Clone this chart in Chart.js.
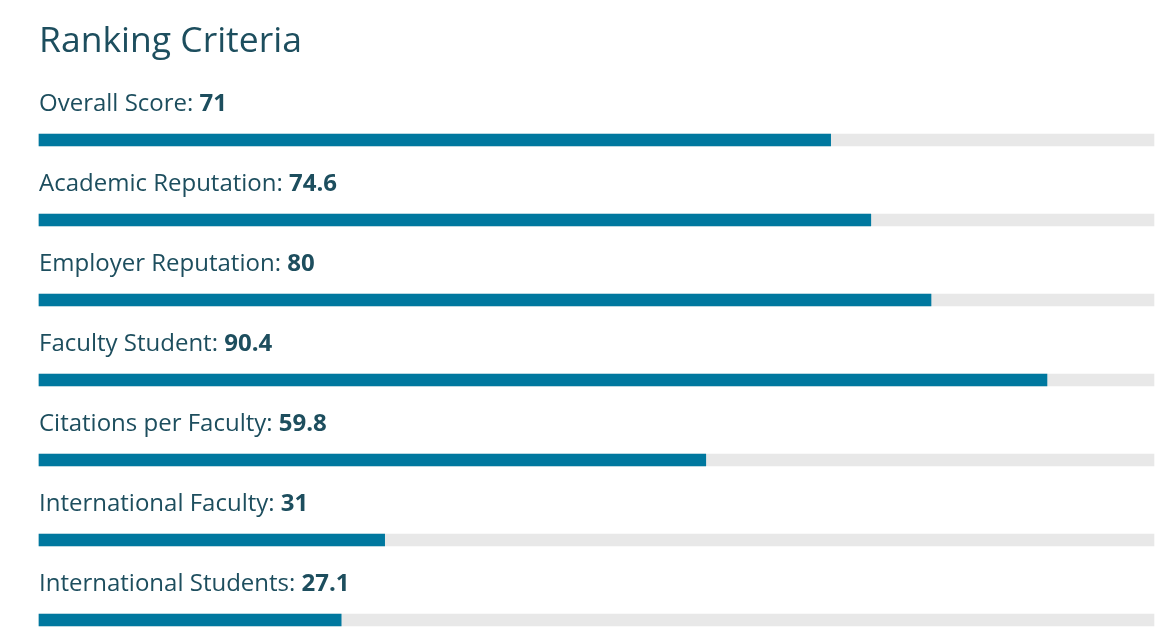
<!DOCTYPE html>
<html><head><meta charset="utf-8">
<script src="https://cdn.jsdelivr.net/npm/chart.js@4/dist/chart.umd.min.js"></script>
<style>html,body{margin:0;padding:0;background:#fff}#w{width:1170px;height:632px}</style>
</head><body><div id="w"><canvas id="c"></canvas></div>
<script>
const categories=["Overall Score","Academic Reputation","Employer Reputation","Faculty Student","Citations per Faculty","International Faculty","International Students"];
const scores=[71,74.6,80,90.4,59.8,31,27.1];
const valueLabels=["71","74.6","80","90.4","59.8","31","27.1"];
const maxScore=[100,100,100,100,100,100,100];
const textPlugin={id:'txt',afterDraw(ch){
  const ctx=ch.ctx,y=ch.scales.y,x=ch.scales.x;
  ctx.save();ctx.fillStyle='#1d4e5e';ctx.textBaseline='alphabetic';
  ctx.font='35.5px "Open Sans"';ctx.fillText('Ranking Criteria',39,52);
  categories.forEach((c,i)=>{
    const yy=y.getPixelForValue(i)-29;
    ctx.font='24px "Open Sans"';const t=c+': ';ctx.fillText(t,x.left,yy);
    const w=ctx.measureText(t).width;ctx.font='bold 24px "Open Sans"';ctx.fillText(valueLabels[i],x.left+w,yy);
  });ctx.restore();}};
new Chart(document.getElementById('c'),{type:'bar',
data:{labels:categories,datasets:[
 {data:scores,backgroundColor:'#00789f',barThickness:12,order:0,clip:false},
 {data:maxScore,backgroundColor:'#e8e8e8',barThickness:12,order:1,clip:false}]},
options:{indexAxis:'y',responsive:true,maintainAspectRatio:false,animation:false,
 layout:{padding:{top:140,bottom:12,left:39,right:16}},
 datasets:{bar:{grouped:false}},
 plugins:{legend:{display:false},tooltip:{enabled:false}},
 scales:{x:{min:0,max:100,display:false},y:{display:false,offset:false}}},
plugins:[textPlugin]});
</script></body></html>
